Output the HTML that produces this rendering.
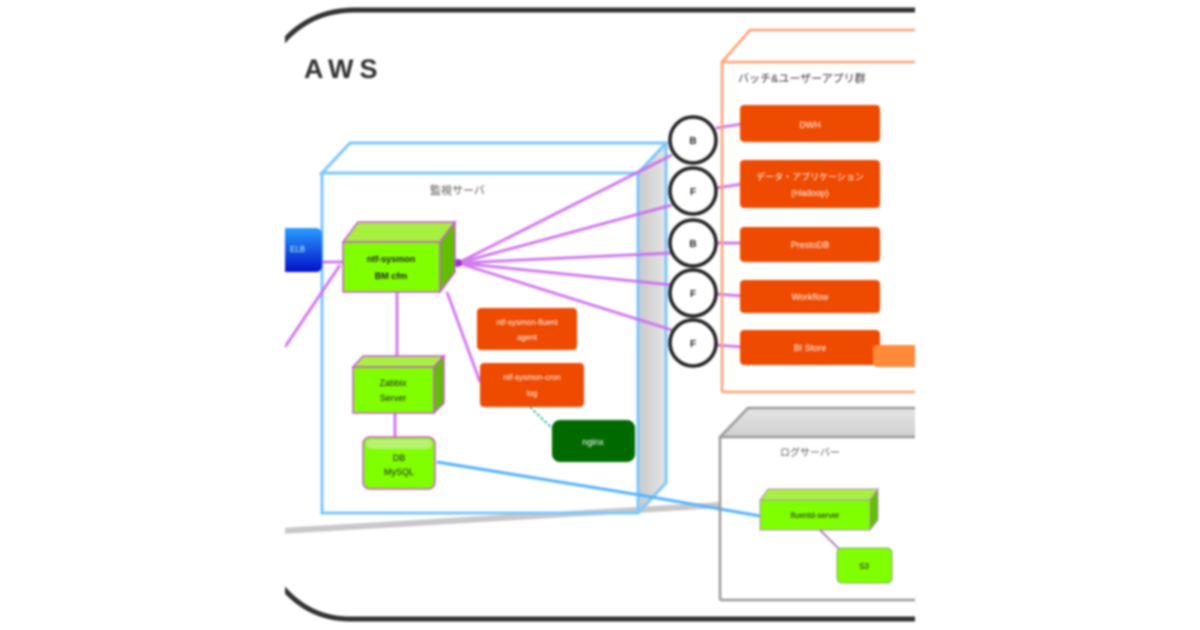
<!DOCTYPE html>
<html><head><meta charset="utf-8"><style>
html,body{margin:0;padding:0;background:#fff;width:1200px;height:630px;overflow:hidden}
svg{display:block;filter:blur(1px)}
text{font-family:"Liberation Sans","Noto Sans CJK JP",sans-serif}
</style></head><body>
<svg width="1200" height="630" viewBox="0 0 1200 630" xmlns="http://www.w3.org/2000/svg">
<defs>
<linearGradient id="bl" x1="0" y1="0" x2="0" y2="1"><stop offset="0" stop-color="#2a9dff"/><stop offset="1" stop-color="#0010c8"/></linearGradient>
<linearGradient id="gs" x1="0" y1="0" x2="1" y2="0"><stop offset="0" stop-color="#c9c9c9"/><stop offset="1" stop-color="#e6e6e6"/></linearGradient>
<linearGradient id="gt" x1="0" y1="0" x2="0" y2="1"><stop offset="0" stop-color="#e4e4e4"/><stop offset="1" stop-color="#cfcfcf"/></linearGradient>
<clipPath id="cp"><rect x="285" y="0" width="630" height="630"/></clipPath>
</defs>
<g clip-path="url(#cp)">
<!-- outer AWS -->
<path d="M 960 10 L 355 10 Q 300 10 270 60" fill="none" stroke="#333" stroke-width="5"/>
<path d="M 960 619 L 350 619 Q 300 619 270 570" fill="none" stroke="#333" stroke-width="5"/>
<text x="304" y="78" font-size="27" font-weight="bold" fill="#333" letter-spacing="6">AWS</text>

<!-- gray floor line -->
<line x1="280" y1="531" x2="720" y2="505" stroke="#c8c8c8" stroke-width="6"/>

<!-- blue 3D box -->
<polygon points="638,173 666,143 666,483 638,513" fill="url(#gs)"/>
<polygon points="322,173 350,143 666,143 638,173" fill="#fff" stroke="#7cc8ff" stroke-width="3"/>
<rect x="322" y="173" width="316" height="340" fill="none" stroke="#7cc8ff" stroke-width="3"/>
<polyline points="638,513 666,483 666,143" fill="none" stroke="#7cc8ff" stroke-width="3"/>
<text x="430" y="194" font-size="11" fill="#555">監視サーバ</text>

<!-- blue element left -->
<rect x="270" y="228" width="52" height="44" rx="6" fill="url(#bl)"/>
<text x="290" y="252" font-size="8" fill="#cfe">ELB</text>

<!-- magenta lines -->
<g stroke="#cc66ee" stroke-width="3" fill="none" opacity="0.85">
<line x1="322" y1="262" x2="345" y2="262"/>
<line x1="285" y1="347" x2="340" y2="265"/>
<line x1="458" y1="263" x2="672" y2="155"/>
<line x1="458" y1="263" x2="672" y2="205"/>
<line x1="458" y1="263" x2="672" y2="253"/>
<line x1="458" y1="263" x2="672" y2="285"/>
<line x1="458" y1="263" x2="672" y2="330"/>
<line x1="447" y1="292" x2="480" y2="382"/>
<line x1="397" y1="292" x2="397" y2="358"/>
<line x1="395" y1="412" x2="395" y2="437"/>
<line x1="716" y1="128" x2="742" y2="124"/>
<line x1="716" y1="188" x2="742" y2="184"/>
<line x1="716" y1="243" x2="742" y2="243"/>
<line x1="716" y1="294" x2="742" y2="296"/>
<line x1="716" y1="345" x2="742" y2="347"/>
</g>
<circle cx="458" cy="263" r="4" fill="#9933cc"/>

<!-- green box 1 -->
<g stroke="#cc55dd" stroke-width="1.5">
<polygon points="343,242 358,222 455,222 440,242" fill="#a8f040"/>
<polygon points="440,242 455,222 455,272 440,292" fill="#5fc000"/>
<rect x="343" y="242" width="97" height="50" fill="#80ff00"/>
</g>
<text x="391" y="262" font-size="9" fill="#222" text-anchor="middle" font-weight="bold">ntf-sysmon</text>
<text x="391" y="279" font-size="9" fill="#222" text-anchor="middle" font-weight="bold">BM  cfm</text>

<!-- green box 2 -->
<g stroke="#cc55dd" stroke-width="1.5">
<polygon points="353,367 363,356 444,356 434,367" fill="#a8f040"/>
<polygon points="434,367 444,356 444,403 434,413" fill="#5fc000"/>
<rect x="353" y="367" width="81" height="46" fill="#80ff00"/>
</g>
<text x="393" y="386" font-size="9" fill="#222" text-anchor="middle">Zabbix</text>
<text x="393" y="401" font-size="9" fill="#222" text-anchor="middle">Server</text>

<!-- green 3 -->
<rect x="363" y="437" width="72" height="52" rx="7" fill="#80ff00" stroke="#cc55dd" stroke-width="1.5"/>
<rect x="366" y="439" width="66" height="10" rx="5" fill="#b8f070"/>
<text x="399" y="461" font-size="9" fill="#222" text-anchor="middle">DB</text>
<text x="399" y="475" font-size="9" fill="#222" text-anchor="middle">MySQL</text>

<!-- blue line to log server -->
<polyline points="437,462 640,495 760,516" fill="none" stroke="#55b4ff" stroke-width="3"/>

<!-- orange inner boxes -->
<rect x="477" y="308" width="100" height="42" rx="4" fill="#ee4a00"/>
<text x="527" y="325" font-size="8" fill="#fff" text-anchor="middle">ntf-sysmon-fluent</text>
<text x="527" y="340" font-size="8" fill="#fff" text-anchor="middle">agent</text>
<rect x="480" y="363" width="104" height="44" rx="4" fill="#ee4a00"/>
<text x="532" y="380" font-size="8" fill="#fff" text-anchor="middle">ntf-sysmon-cron</text>
<text x="532" y="396" font-size="8" fill="#fff" text-anchor="middle">log</text>
<line x1="530" y1="407" x2="556" y2="432" stroke="#44bb99" stroke-width="2" stroke-dasharray="3,2"/>
<rect x="552" y="420" width="83" height="42" rx="8" fill="#006a00"/>
<text x="593" y="445" font-size="9" fill="#fff" text-anchor="middle">nginx</text>

<!-- circles -->
<g stroke="#222" stroke-width="3.5" fill="#fff">
<circle cx="693" cy="140" r="23"/>
<circle cx="693" cy="191" r="23"/>
<circle cx="693" cy="243" r="23"/>
<circle cx="693" cy="293" r="23"/>
<circle cx="693" cy="343" r="23"/>
</g>
<g font-size="10" fill="#222" text-anchor="middle" font-weight="bold">
<text x="693" y="144">B</text><text x="693" y="195">F</text><text x="693" y="247">B</text><text x="693" y="297">F</text><text x="693" y="347">F</text>
</g>

<!-- orange group box -->
<polyline points="722,392 722,62 750,30 960,30" fill="none" stroke="#ffa070" stroke-width="2.5"/>
<line x1="722" y1="62" x2="960" y2="62" stroke="#ffa070" stroke-width="2.5"/>
<line x1="722" y1="392" x2="960" y2="392" stroke="#ffa070" stroke-width="2.5"/>
<text x="738" y="82" font-size="11" fill="#333">バッチ&amp;ユーザーアプリ群</text>
<g fill="#ee4a00">
<rect x="740" y="105" width="140" height="37" rx="4"/>
<rect x="740" y="160" width="140" height="48" rx="4"/>
<rect x="740" y="227" width="140" height="35" rx="4"/>
<rect x="740" y="280" width="140" height="33" rx="4"/>
<rect x="740" y="330" width="140" height="35" rx="4"/>
</g>
<rect x="873" y="345" width="50" height="22" rx="4" fill="#ff8a3a"/>
<g font-size="9" fill="#fff" text-anchor="middle">
<text x="810" y="128">DWH</text>
<text x="810" y="180">データ・アプリケーション</text>
<text x="810" y="196">(Hadoop)</text>
<text x="810" y="248">PrestoDB</text>
<text x="810" y="300">Workflow</text>
<text x="810" y="351">BI Store</text>
</g>

<!-- gray log server box -->
<polygon points="720,437 748,408 960,408 960,437" fill="url(#gt)"/>
<polyline points="720,600 720,437 748,408 960,408" fill="none" stroke="#999" stroke-width="2.5"/>
<line x1="720" y1="437" x2="960" y2="437" stroke="#999" stroke-width="2.5"/>
<line x1="720" y1="600" x2="960" y2="600" stroke="#999" stroke-width="2.5"/>
<text x="780" y="456" font-size="10" fill="#555">ログサーバー</text>
<g stroke="#bb88cc" stroke-width="1">
<polygon points="760,500 768,489 878,489 870,500" fill="#a8f040"/>
<polygon points="870,500 878,489 878,520 870,530" fill="#5fc000"/>
<rect x="760" y="500" width="110" height="30" fill="#80ff00"/>
</g>
<text x="815" y="518" font-size="8" fill="#222" text-anchor="middle">fluentd-server</text>
<line x1="820" y1="530" x2="842" y2="552" stroke="#9955aa" stroke-width="1.5"/>
<rect x="837" y="548" width="55" height="35" rx="5" fill="#80ff00" stroke="#88aa66" stroke-width="1"/>
<text x="864" y="569" font-size="8" fill="#222" text-anchor="middle">S3</text>
</g>
</svg>
</body></html>
